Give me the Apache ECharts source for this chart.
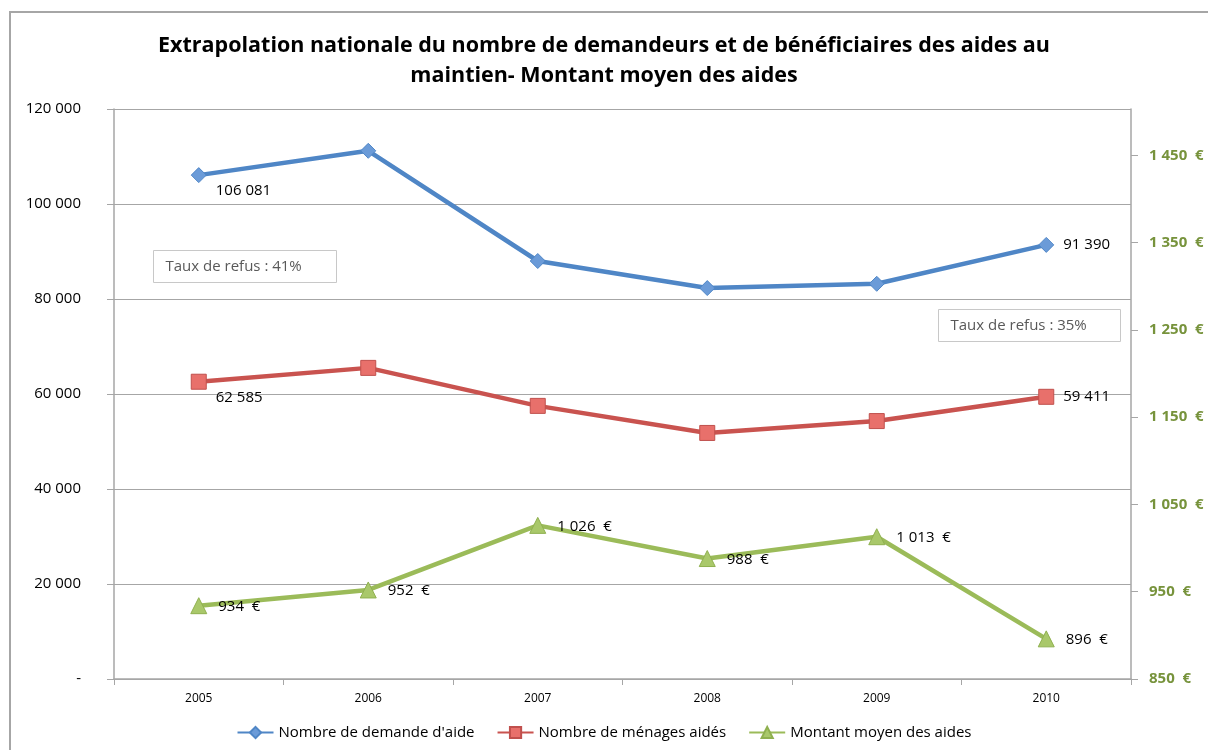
<!DOCTYPE html>
<html>
<head>
<meta charset="utf-8">
<script src="https://cdn.jsdelivr.net/npm/echarts@6/dist/echarts.min.js"></script>
<style>
  html, body { margin: 0; padding: 0; background: #fff; }
  #chart { width: 1208px; height: 750px; }
</style>
</head>
<body>
<div id="chart"></div>
<script>
const years = ['2005', '2006', '2007', '2008', '2009', '2010'];
const demandes = [106081, 111200, 88000, 82300, 83200, 91390];
const menages = [62585, 65500, 57500, 51800, 54300, 59411];
const montants = [934, 952, 1026, 988, 1013, 896];
const rightTicks = [850, 950, 1050, 1150, 1250, 1350, 1450];
const notes = ['Taux de refus : 41%', 'Taux de refus : 35%'];

const chart = echarts.init(document.getElementById('chart'));
const font = '"Open Sans", "Noto Sans", sans-serif';

function fmtNum(v) {
  return String(Math.round(v)).replace(/\B(?=(\d{3})+(?!\d))/g, ' ');
}

// only first and last points of the two counts carry a label
function countData(values) {
  return values.map(function (v, i) {
    const last = i === values.length - 1;
    if (i === 0) {
      return { value: v, label: { show: true, position: 'right', offset: [4, 16] } };
    }
    if (last) {
      return { value: v, label: { show: true, position: 'right', offset: [4, 0] } };
    }
    return v;
  });
}

const option = {
  animation: false,
  textStyle: { fontFamily: font },
  title: {
    text: 'Extrapolation nationale du nombre de demandeurs et de bénéficiaires des aides au\nmaintien- Montant moyen des aides',
    left: 'center',
    top: 26,
    textStyle: { fontSize: 21.5, fontWeight: 'bold', color: '#000', lineHeight: 30, fontFamily: font, align: 'center' }
  },
  legend: {
    bottom: 5,
    left: 'center',
    itemWidth: 36,
    itemHeight: 14,
    itemGap: 22,
    textStyle: { fontSize: 15, color: '#000', fontFamily: font },
    data: ["Nombre de demande d'aide", 'Nombre de ménages aidés', 'Montant moyen des aides']
  },
  grid: { left: 114, right: 77, top: 109, bottom: 71 },
  xAxis: {
    type: 'category',
    data: years,
    boundaryGap: true,
    axisLine: { lineStyle: { color: '#a6a6a6', width: 1.5 } },
    axisTick: { show: true, inside: false, length: 6, interval: 0, lineStyle: { color: '#a6a6a6' } },
    axisLabel: { color: '#000', fontSize: 12, margin: 14 },
    splitLine: { show: false }
  },
  yAxis: [{
    type: 'value',
    min: 0,
    max: 120000,
    interval: 20000,
    position: 'left',
    axisLine: { show: true, lineStyle: { color: '#a6a6a6', width: 1.5 } },
    axisTick: { show: true, length: 7, lineStyle: { color: '#a6a6a6' } },
    axisLabel: {
      color: '#000',
      fontSize: 15,
      margin: 33,
      formatter: function (v) { return v === 0 ? '-' : fmtNum(v); }
    },
    splitLine: { show: true, lineStyle: { color: '#a6a6a6', width: 1.2 } }
  }, {
    type: 'value',
    min: 850,
    max: 1503,
    position: 'right',
    axisLine: { show: true, lineStyle: { color: '#a6a6a6', width: 1.5 } },
    axisTick: { show: true, length: 7, customValues: rightTicks, lineStyle: { color: '#a6a6a6' } },
    axisLabel: {
      color: '#77933c',
      fontSize: 15,
      fontWeight: 'bold',
      margin: 18,
      customValues: rightTicks,
      formatter: function (v) { return fmtNum(v) + '  €'; }
    },
    splitLine: { show: false }
  }],
  series: [{
    name: "Nombre de demande d'aide",
    type: 'line',
    yAxisIndex: 0,
    data: countData(demandes),
    symbol: 'diamond',
    symbolSize: 15,
    lineStyle: { color: '#4f86c6', width: 4.5 },
    itemStyle: { color: '#6b9bd8', borderColor: '#4f86c6', borderWidth: 1 },
    label: { color: '#000', fontSize: 15, formatter: function (p) { return fmtNum(p.value); } }
  }, {
    name: 'Nombre de ménages aidés',
    type: 'line',
    yAxisIndex: 0,
    data: countData(menages),
    symbol: 'rect',
    symbolSize: 15,
    lineStyle: { color: '#c9534f', width: 4.5 },
    itemStyle: { color: '#e8706b', borderColor: '#c0504d', borderWidth: 1 },
    label: { color: '#000', fontSize: 15, formatter: function (p) { return fmtNum(p.value); } }
  }, {
    name: 'Montant moyen des aides',
    type: 'line',
    yAxisIndex: 1,
    data: montants,
    symbol: 'triangle',
    symbolSize: 16,
    lineStyle: { color: '#9bbb59', width: 4.5 },
    itemStyle: { color: '#a9c86a', borderColor: '#8fb04f', borderWidth: 1 },
    label: {
      show: true,
      position: 'right',
      offset: [6, 1],
      color: '#000',
      fontSize: 15,
      formatter: function (p) { return fmtNum(p.value) + '  €'; }
    }
  }],
  graphic: [{
    type: 'rect',
    silent: true,
    z: -1,
    shape: { x: 10, y: 12, width: 1300, height: 900 },
    style: { fill: 'none', stroke: '#a6a6a6', lineWidth: 2 }
  }, {
    type: 'group',
    left: 153,
    top: 250,
    children: [{
      type: 'rect',
      shape: { x: 0, y: 0, width: 183, height: 32 },
      style: { fill: '#fff', stroke: '#c8c8c8', lineWidth: 1 }
    }, {
      type: 'text',
      x: 12,
      y: 16,
      style: { text: notes[0], fill: '#595959', fontSize: 15, fontFamily: font, verticalAlign: 'middle' }
    }]
  }, {
    type: 'group',
    left: 938,
    top: 309,
    children: [{
      type: 'rect',
      shape: { x: 0, y: 0, width: 182, height: 32 },
      style: { fill: '#fff', stroke: '#c8c8c8', lineWidth: 1 }
    }, {
      type: 'text',
      x: 12,
      y: 16,
      style: { text: notes[1], fill: '#595959', fontSize: 15, fontFamily: font, verticalAlign: 'middle' }
    }]
  }]
};

chart.setOption(option);
</script>
</body>
</html>
